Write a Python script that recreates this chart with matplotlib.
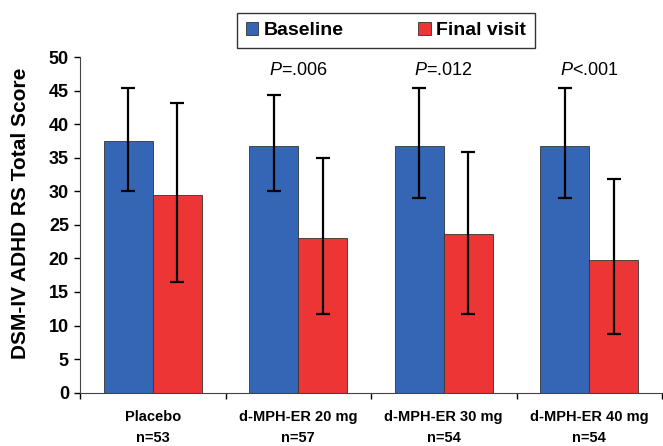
import matplotlib
matplotlib.use("Agg")
import matplotlib.pyplot as plt
import numpy as np
from matplotlib.patches import Patch

categories = ["Placebo", "d-MPH-ER 20 mg", "d-MPH-ER 30 mg", "d-MPH-ER 40 mg"]
n_labels = ["n=53", "n=57", "n=54", "n=54"]
baseline = [37.5, 36.7, 36.8, 36.8]
baseline_err_low = [7.5, 6.7, 7.8, 7.8]
baseline_err_high = [7.9, 7.7, 8.6, 8.6]
final = [29.4, 23.0, 23.6, 19.7]
final_err_low = [12.9, 11.3, 11.9, 10.9]
final_err_high = [13.7, 11.9, 12.2, 12.2]
p_labels = [None, ("P", "=.006"), ("P", "=.012"), ("P", "<.001")]

plt.rcParams['font.family'] = ['Liberation Sans', 'DejaVu Sans']
plt.rcParams['mathtext.fontset'] = 'custom'
plt.rcParams['mathtext.it'] = 'Liberation Sans:italic'
plt.rcParams['mathtext.rm'] = 'Liberation Sans'

fig = plt.figure(figsize=(6.63, 4.46), dpi=100)
ax = fig.add_axes([80/663, 53.3/446, 582/663, (392.7-57)/446])

x = np.arange(len(categories))
w = 0.336
blue = "#3565B5"
red = "#EE3535"
ax.bar(x - w/2, baseline, w, color=blue, edgecolor="#333333", linewidth=0.6,
       yerr=[baseline_err_low, baseline_err_high], capsize=5,
       error_kw=dict(ecolor="black", elinewidth=1.6, capthick=1.6), zorder=2)
ax.bar(x + w/2, final, w, color=red, edgecolor="#333333", linewidth=0.6,
       yerr=[final_err_low, final_err_high], capsize=5,
       error_kw=dict(ecolor="black", elinewidth=1.6, capthick=1.6), zorder=2)

ax.set_xlim(-0.5, len(categories) - 0.5)
ax.set_ylim(0, 50)
ax.set_yticks(np.arange(0, 51, 5))
ax.tick_params(axis='y', labelsize=13, length=4, width=1, pad=4)
for lab in ax.get_yticklabels():
    lab.set_fontweight('bold')
ax.set_xticks(np.arange(-0.5, len(categories), 1))
ax.set_xticklabels([])
ax.tick_params(axis='x', length=4, width=1)
for i, (c, n) in enumerate(zip(categories, n_labels)):
    ax.text(i, -3.6, c, ha='center', va='center', fontsize=10.5, fontweight='bold')
    ax.text(i, -6.7, n, ha='center', va='center', fontsize=10.5, fontweight='bold')

ax.spines['top'].set_visible(False)
ax.spines['right'].set_visible(False)
ax.spines['left'].set_color('#444444')
ax.spines['bottom'].set_color('#444444')

fig.text(21/663, 1 - 213/446, "DSM-IV ADHD RS Total Score", rotation=90,
         ha='center', va='center', fontsize=15, fontweight='bold')

for i, p in enumerate(p_labels):
    if p is None:
        continue
    ax.text(i, 48.0, "$\\mathit{P}$" + p[1], ha='center', va='center', fontsize=13)

handles = [Patch(facecolor=blue, edgecolor="#333333", linewidth=0.6, label="Baseline"),
           Patch(facecolor=red, edgecolor="#333333", linewidth=0.6, label="Final visit")]
leg = fig.legend(handles=handles, loc='center', bbox_to_anchor=(386/663, 1 - 30.5/446),
                 ncol=2, frameon=True, fancybox=False, edgecolor="black",
                 prop={'weight': 'bold', 'size': 14}, handlelength=0.65, handleheight=0.65,
                 handletextpad=0.3, columnspacing=3.8, borderpad=0.45, borderaxespad=0)
leg.get_frame().set_linewidth(1.0)

fig.savefig("out.png", dpi=100)
